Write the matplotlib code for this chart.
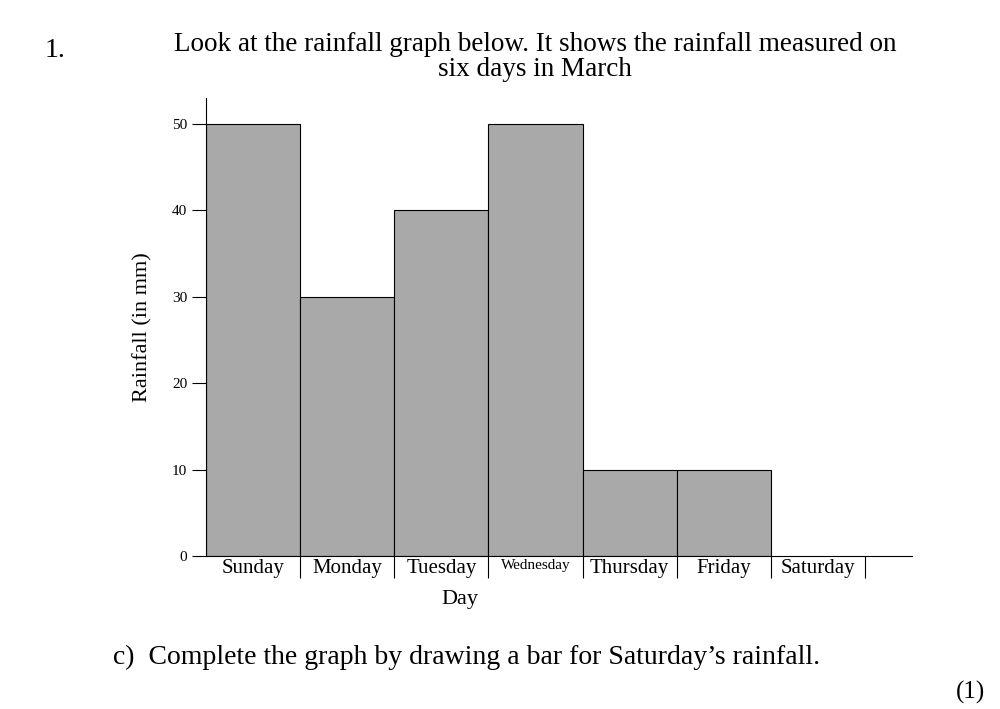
import matplotlib.pyplot as plt

days = ["Sunday", "Monday", "Tuesday", "Wednesday", "Thursday", "Friday", "Saturday"]
rain = [50, 30, 40, 50, 10, 10]
yticks = [0, 10, 20, 30, 40, 50]

plt.rcParams["font.family"] = "Liberation Serif"
fig = plt.figure(figsize=(10, 7.09), dpi=100)
ax = fig.add_axes([0.206, 0.2158, 0.706, 0.646])

ax.bar(range(len(rain)), rain, width=1.0, align="edge",
       color="#a9a9a9", edgecolor="black", linewidth=0.8)

ax.set_xlim(0, 7.5)
ax.set_ylim(0, 53)
ax.set_yticks(yticks)
ax.tick_params(axis="y", labelsize=11, length=10, width=0.8)
ax.set_xticks([i + 0.5 for i in range(len(days))])
ax.set_xticklabels(days, fontsize=15)
for lab in ax.get_xticklabels():
    if lab.get_text() == "Wednesday":
        lab.set_fontsize(11)
ax.tick_params(axis="x", length=0, pad=2)
ax.set_xticks(range(1, 8), minor=True)
ax.tick_params(axis="x", which="minor", length=16, width=0.8)
for s in ["top", "right"]:
    ax.spines[s].set_visible(False)
ax.spines["left"].set_linewidth(0.8)
ax.spines["bottom"].set_linewidth(0.8)

ax.set_xlabel("Day", fontsize=16, labelpad=6)
ax.xaxis.set_label_coords(2.7 / 7.5, -0.075)
ax.set_ylabel("Rainfall (in mm)", fontsize=16, labelpad=14)

fig.text(0.045, 0.92, "1.", fontsize=20)
fig.text(0.535, 0.885, "Look at the rainfall graph below. It shows the rainfall measured on\nsix days in March",
         fontsize=19.5, ha="center", va="bottom", linespacing=1.0)
fig.text(0.113, 0.063, "c)  Complete the graph by drawing a bar for Saturday\u2019s rainfall.", fontsize=20)
fig.text(0.985, 0.015, "(1)", fontsize=18, ha="right")

fig.savefig("out.png", dpi=100)
